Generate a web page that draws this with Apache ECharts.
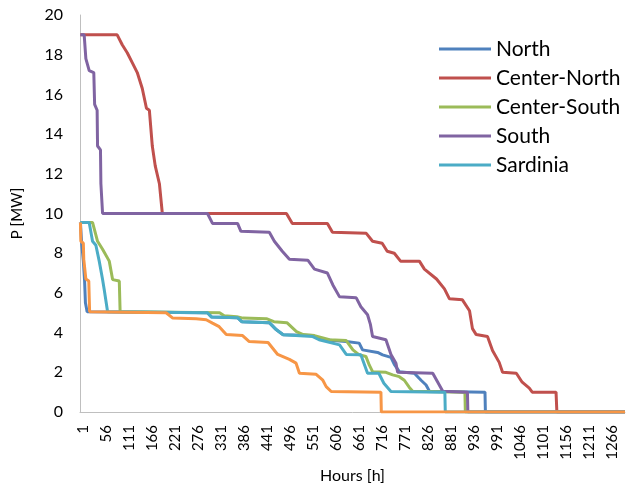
<!DOCTYPE html>
<html>
<head>
<meta charset="utf-8">
<script src="https://cdn.jsdelivr.net/npm/echarts@6/dist/echarts.min.js"></script>
<style>
  html, body { margin: 0; padding: 0; background: #fff; }
  #main { width: 626px; height: 483px; }
</style>
</head>
<body>
<div id="main"></div>
<script>
// duration curves, [hour, MW] at the corners
var north = [[1, 9.55], [4, 8.5], [8, 7.6], [11, 6.6], [13, 5.5], [17, 5.05], [305, 5.0], [315, 4.78], [377, 4.75], [387, 4.55], [453, 4.5], [470, 4.14], [486, 3.89], [557, 3.85], [573, 3.67], [605, 3.6], [637, 3.55], [668, 3.47], [676, 3.13], [712, 3.0], [724, 2.88], [744, 2.75], [752, 2.4], [764, 2.03], [800, 1.95], [816, 1.6], [828, 1.36], [836, 1.05], [969, 1], [970, 0], [1304, 0]];
var centerNorth = [[1, 19], [89, 19], [101, 18.5], [113, 18.1], [125, 17.6], [137, 17.1], [149, 16.3], [159, 15.3], [166, 15.2], [173, 13.4], [180, 12.4], [190, 11.5], [197, 10], [494, 10], [508, 9.5], [592, 9.5], [604, 9.05], [685, 9], [700, 8.6], [723, 8.5], [735, 8.1], [752, 8], [767, 7.6], [812, 7.6], [824, 7.2], [853, 6.7], [872, 6.2], [884, 5.7], [915, 5.65], [932, 5.1], [939, 4.2], [948, 3.9], [975, 3.8], [987, 3.1], [1003, 2.5], [1011, 2], [1044, 1.95], [1058, 1.5], [1075, 1.2], [1082, 1], [1139, 1], [1141, 0], [1304, 0]];
var centerSouth = [[1, 9.55], [30, 9.55], [42, 8.6], [54, 8.2], [70, 7.6], [78, 6.67], [94, 6.6], [96, 5.05], [334, 5.0], [345, 4.85], [375, 4.8], [390, 4.73], [446, 4.7], [464, 4.55], [495, 4.5], [518, 4.05], [534, 3.9], [561, 3.85], [597, 3.64], [637, 3.6], [653, 3.13], [668, 2.88], [684, 2.8], [692, 2.37], [700, 2.03], [732, 2.0], [748, 1.87], [764, 1.78], [776, 1.6], [788, 1.24], [796, 1.05], [921, 1], [922, 0], [1304, 0]];
var south = [[1, 19], [10, 19], [14, 17.8], [22, 17.2], [33, 17.1], [35, 15.5], [41, 15.2], [42, 13.4], [49, 13.2], [50, 11.5], [54, 10], [305, 10], [317, 9.5], [377, 9.5], [385, 9.1], [453, 9.05], [465, 8.6], [484, 8.1], [501, 7.7], [545, 7.65], [561, 7.2], [592, 7.0], [605, 6.4], [621, 5.8], [661, 5.75], [672, 5.3], [688, 4.9], [695, 4.4], [700, 3.8], [732, 3.64], [744, 2.9], [756, 2.46], [760, 2.0], [844, 1.95], [856, 1.5], [868, 1.05], [927, 1], [928, 0], [1304, 0]];
var sardinia = [[1, 9.55], [22, 9.55], [30, 8.6], [38, 8.4], [46, 7.6], [54, 6.67], [58, 6.16], [66, 5.05], [305, 5.0], [315, 4.78], [377, 4.75], [387, 4.55], [453, 4.5], [470, 4.14], [486, 3.89], [557, 3.8], [572, 3.64], [621, 3.38], [637, 2.9], [672, 2.88], [688, 1.95], [715, 1.95], [727, 1.45], [744, 1.03], [873, 1], [874, 0], [1304, 0]];
var sicily = [[1, 9.55], [2, 8.6], [8, 8.5], [9, 7.7], [13, 7.6], [14, 6.7], [21, 6.6], [23, 5.05], [206, 5.0], [222, 4.73], [278, 4.7], [302, 4.65], [317, 4.48], [333, 4.3], [350, 3.9], [389, 3.85], [405, 3.55], [450, 3.5], [473, 2.9], [501, 2.65], [517, 2.46], [525, 1.95], [565, 1.9], [581, 1.6], [589, 1.28], [601, 1.03], [720, 1], [721, 0], [1304, 0]];

var names = ['North', 'Center-North', 'Center-South', 'South', 'Sardinia', 'Sicily'];
var colors = ['#4F81BD', '#C0504D', '#9BBB59', '#8064A2', '#4BACC6', '#F79646'];
var allData = [north, centerNorth, centerSouth, south, sardinia, sicily];

var font = 'Lato, "Open Sans", sans-serif';
var chart = echarts.init(document.getElementById('main'));

var series = allData.map(function (d, i) {
    return {
        name: names[i],
        type: 'line',
        data: d,
        symbol: 'none',
        animation: false,
        lineStyle: { width: 3, color: colors[i] },
        itemStyle: { color: colors[i] }
    };
});

chart.setOption({
    backgroundColor: '#fff',
    color: colors,
    grid: { left: 80, right: 1, top: 15, bottom: 71, outerBoundsMode: 'none' },
    legend: {
        data: names.slice(0, 5), // last series has no legend entry
        orient: 'vertical',
        left: 439,
        top: 38,
        padding: 0,
        icon: 'rect',
        itemWidth: 52,
        itemHeight: 3,
        itemGap: 7,
        textStyle: { fontFamily: font, fontSize: 21, color: '#000', lineHeight: 22 }
    },
    xAxis: {
        type: 'value',
        min: 0,
        max: 1304,
        interval: 55,
        name: 'Hours [h]',
        nameLocation: 'middle',
        nameGap: 56,
        nameMoveOverlap: false,
        nameTextStyle: { fontFamily: font, fontSize: 16, color: '#000' },
        axisLine: { lineStyle: { color: '#bfbfbf', width: 1 } },
        axisTick: { show: false },
        splitLine: { show: false },
        axisLabel: {
            rotate: 90,
            margin: 13,
            showMaxLabel: false,
            fontFamily: font,
            fontSize: 15,
            color: '#000',
            verticalAlign: 'top',
            lineHeight: 7,
            formatter: function (v) { return v + 1; }
        }
    },
    yAxis: {
        type: 'value',
        min: 0,
        max: 20,
        interval: 2,
        name: 'P [MW]',
        nameLocation: 'middle',
        nameGap: 55,
        nameMoveOverlap: false,
        nameTextStyle: { fontFamily: font, fontSize: 15, color: '#000' },
        axisLine: { show: true, lineStyle: { color: '#bfbfbf', width: 1 } },
        axisTick: { show: false },
        splitLine: { show: false },
        axisLabel: { margin: 17, fontFamily: font, fontSize: 16, color: '#000' }
    },
    series: series
});
</script>
</body>
</html>
